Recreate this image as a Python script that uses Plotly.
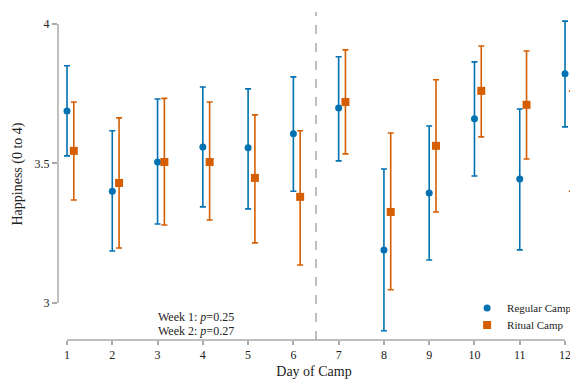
import plotly.graph_objects as go

days = list(range(1, 13))
regular_mean = [3.688, 3.400, 3.505, 3.559, 3.556, 3.606, 3.699, 3.190, 3.394, 3.660, 3.444, 3.821]
regular_low = [3.527, 3.186, 3.283, 3.344, 3.337, 3.400, 3.509, 2.900, 3.154, 3.455, 3.190, 3.631]
regular_high = [3.850, 3.617, 3.731, 3.774, 3.767, 3.810, 3.882, 3.480, 3.634, 3.864, 3.695, 4.010]

ritual_mean = [3.545, 3.430, 3.505, 3.505, 3.448, 3.380, 3.720, 3.326, 3.563, 3.760, 3.710, 3.580]
ritual_low = [3.369, 3.197, 3.279, 3.297, 3.215, 3.136, 3.534, 3.047, 3.326, 3.595, 3.516, 3.400]
ritual_high = [3.720, 3.663, 3.733, 3.720, 3.674, 3.617, 3.907, 3.609, 3.800, 3.921, 3.903, 3.760]

ritual_offset = 0.15
x_ticks = list(range(1, 13))
y_ticks = [3, 3.5, 4]
y_tick_text = ["3", "3.5", "4"]

BLUE = "#0072B2"
ORANGE = "#D55E00"
GRAY = "#aaaaaa"
FONT = "Liberation Serif"

fig = go.Figure()
fig.add_trace(go.Scatter(
    x=days, y=regular_mean, mode="markers", name="Regular Camp",
    marker=dict(symbol="circle", size=7, color=BLUE),
    error_y=dict(type="data", symmetric=False,
                 array=[h - m for h, m in zip(regular_high, regular_mean)],
                 arrayminus=[m - l for m, l in zip(regular_mean, regular_low)],
                 color=BLUE, thickness=1.6, width=3),
    cliponaxis=False, legend="legend",
))
fig.add_trace(go.Scatter(
    x=[d + ritual_offset for d in days], y=ritual_mean, mode="markers", name="Ritual Camp",
    marker=dict(symbol="square", size=8, color=ORANGE),
    error_y=dict(type="data", symmetric=False,
                 array=[h - m for h, m in zip(ritual_high, ritual_mean)],
                 arrayminus=[m - l for m, l in zip(ritual_mean, ritual_low)],
                 color=ORANGE, thickness=1.6, width=3),
    cliponaxis=False, legend="legend2",
))

# vertical dashed separator between weeks
fig.add_shape(type="line", xref="x", yref="paper", x0=6.5, x1=6.5, y0=0, y1=0.988,
              line=dict(color=GRAY, width=1.5, dash="dash"))
# offset spines
fig.add_shape(type="line", xref="paper", yref="y", x0=0, x1=0, y0=3, y1=4,
              line=dict(color=GRAY, width=1.5))
fig.add_shape(type="line", xref="x", yref="paper", x0=1, x1=12, y0=0, y1=0,
              line=dict(color=GRAY, width=1.5))

fig.add_annotation(x=3.85, y=2.948, xref="x", yref="y",
                   text="Week 1: <i>p</i>=0.25",
                   showarrow=False, font=dict(family=FONT, size=12, color="#222"))
fig.add_annotation(x=3.85, y=2.901, xref="x", yref="y",
                   text="Week 2: <i>p</i>=0.27",
                   showarrow=False, font=dict(family=FONT, size=12, color="#222"))

legend_style = dict(xanchor="left", yanchor="top",
                    font=dict(family=FONT, size=11, color="#222"),
                    bgcolor="rgba(0,0,0,0)", itemwidth=30)

fig.update_layout(
    width=570, height=379,
    margin=dict(l=58, r=0, t=8, b=39, autoexpand=False),
    paper_bgcolor="white", plot_bgcolor="white",
    font=dict(family=FONT, size=12, color="#222"),
    showlegend=True,
    legend=dict(x=0.799, y=0.14, **legend_style),
    legend2=dict(x=0.799, y=0.0889, **legend_style),
    xaxis=dict(range=[0.801, 12.11], tickmode="array", tickvals=x_ticks,
               showgrid=False, zeroline=False, showline=False, automargin=False,
               ticklabeloverflow="allow",
               ticks="outside", ticklen=4, tickcolor=GRAY, tickwidth=1.5,
               tickfont=dict(family=FONT, size=12, color="#222"),
               title=dict(text="Day of Camp", font=dict(family=FONT, size=14, color="#222"), standoff=6)),
    yaxis=dict(range=[2.867, 4.057], tickmode="array", tickvals=y_ticks, ticktext=y_tick_text,
               showgrid=False, zeroline=False, showline=False, automargin=False,
               ticks="outside", ticklen=5, tickcolor=GRAY, tickwidth=1.5,
               tickfont=dict(family=FONT, size=12, color="#222"),
               title=dict(text="Happiness (0 to 4)", font=dict(family=FONT, size=14, color="#222"), standoff=8)),
)

fig.write_html("out.html")
